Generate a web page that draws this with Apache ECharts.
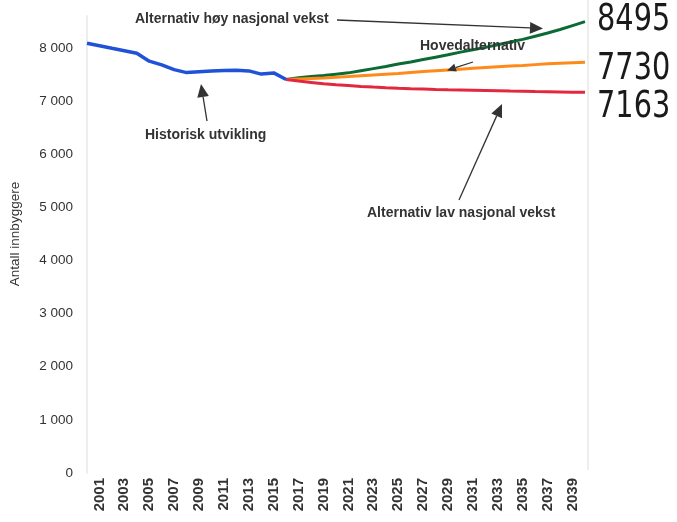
<!DOCTYPE html>
<html>
<head>
<meta charset="utf-8">
<script src="https://cdn.jsdelivr.net/npm/echarts@6/dist/echarts.min.js"></script>
<style>
html,body{margin:0;padding:0;background:#fff;}
#c{width:677px;height:522px;}
</style>
</head>
<body>
<div id="c"></div>
<script>
// Years 2000–2040
const years = [];
for (let y = 2000; y <= 2040; y++) years.push(String(y));

// Historisk utvikling 2000–2016
const historisk = [8088, 8040, 7992, 7947, 7900, 7750, 7680, 7591, 7535, 7552, 7567, 7574, 7578, 7567, 7507, 7529, 7405];
// Projections 2016–2040
const hoy = [7405, 7440, 7460, 7480, 7505, 7530, 7570, 7610, 7650, 7695, 7735, 7780, 7825, 7870, 7920, 7965, 8010, 8060, 8110, 8160, 8220, 8280, 8345, 8420, 8495];
const hoved = [7405, 7415, 7425, 7435, 7448, 7460, 7475, 7490, 7505, 7520, 7538, 7555, 7570, 7585, 7600, 7615, 7630, 7645, 7658, 7670, 7685, 7700, 7712, 7722, 7730];
const lav = [7405, 7375, 7350, 7325, 7305, 7290, 7275, 7262, 7250, 7240, 7232, 7225, 7218, 7212, 7207, 7202, 7197, 7192, 7187, 7183, 7178, 7174, 7170, 7166, 7163];
const handNotes = ['8495', '7730', '7163'];
const yTitle = 'Antall innbyggere';

const projStart = 16;
function pad(arr, start) {
  const out = new Array(years.length).fill(null);
  arr.forEach((v, i) => { out[start + i] = v; });
  return out;
}

function arrow(x1, y1, x2, y2, head) {
  const dx = x2 - x1, dy = y2 - y1, L = Math.sqrt(dx*dx + dy*dy);
  const ux = dx / L, uy = dy / L, px = -uy, py = ux;
  const hl = head, hw = head * 0.45;
  const bx = x2 - ux * hl, by = y2 - uy * hl;
  return [
    { type: 'line', shape: { x1: x1, y1: y1, x2: bx, y2: by }, style: { stroke: '#333', lineWidth: 1.3 }, z: 10 },
    { type: 'polygon', shape: { points: [[x2, y2], [bx + px*hw, by + py*hw], [bx - px*hw, by - py*hw]] }, style: { fill: '#333' }, z: 10 }
  ];
}

const FONT = '"Liberation Sans", Arial, sans-serif';
function label(text, x, y) {
  return { type: 'text', x: x, y: y, z: 10,
    style: { text: text, fill: '#333', font: 'bold 14px ' + FONT, textAlign: 'left', textVerticalAlign: 'middle' } };
}
function hand(text, x, y) {
  return { type: 'text', x: x, y: y, z: 10, scaleX: 0.8, scaleY: 1.05,
    style: { text: text, fill: '#1a1a1a', font: '36px "DejaVu Sans", sans-serif', textAlign: 'left', textVerticalAlign: 'middle' } };
}

const chart = echarts.init(document.getElementById('c'));
chart.setOption({
  animation: false,
  backgroundColor: '#fff',
  grid: { left: 87, right: 92, top: 16, bottom: 49, containLabel: false, outerBoundsMode: 'none' },
  xAxis: {
    type: 'category', data: years, boundaryGap: false,
    axisLine: { show: false }, axisTick: { show: false },
    axisLabel: {
      rotate: 90, margin: 5, color: '#333', fontWeight: 'bold', fontSize: 15,
      fontFamily: FONT,
      interval: function (i) { return i % 2 === 1; }
    },
    splitLine: { show: false }
  },
  yAxis: {
    type: 'value', min: 0, max: 8600, interval: 1000,
    axisLine: { show: true, lineStyle: { color: '#eeeeee', width: 2 } },
    axisTick: { show: false },
    splitLine: { show: false },
    axisLabel: {
      margin: 14, color: '#333', fontSize: 13.5, fontFamily: FONT,
      formatter: function (v) { if (v % 1000 !== 0) return ''; return v === 0 ? '0' : String(v / 1000) + ' 000'; }
    }
  },
  series: [
    { name: 'Alternativ høy nasjonal vekst', type: 'line', data: pad(hoy, projStart), symbol: 'none', lineStyle: { color: '#0c6b35', width: 3 }, z: 3 },
    { name: 'Hovedalternativ', type: 'line', data: pad(hoved, projStart), symbol: 'none', lineStyle: { color: '#ff8a1c', width: 3 }, z: 3 },
    { name: 'Alternativ lav nasjonal vekst', type: 'line', data: pad(lav, projStart), symbol: 'none', lineStyle: { color: '#e2283e', width: 3 }, z: 3 },
    { name: 'Historisk utvikling', type: 'line', data: pad(historisk, 0), symbol: 'none', lineStyle: { color: '#1f52d6', width: 3.5 }, z: 4 }
  ],
  graphic: [].concat(
    [{ type: 'text', x: 15, y: 234, rotation: Math.PI / 2, z: 10,
       style: { text: yTitle, fill: '#333', font: '13.5px ' + FONT, textAlign: 'center', textVerticalAlign: 'middle' } }],
    [label('Alternativ høy nasjonal vekst', 135, 19)],
    arrow(337, 20, 543, 28.5, 13),
    [label('Hovedalternativ', 420, 46)],
    arrow(473, 62, 447, 70.5, 9),
    [label('Historisk utvikling', 145, 135)],
    arrow(207, 121, 201, 84, 13),
    [label('Alternativ lav nasjonal vekst', 367, 213)],
    arrow(459, 200, 502, 104, 13),
    [{ type: 'line', shape: { x1: 588, y1: 0, x2: 588, y2: 470 }, style: { stroke: '#eeeeee', lineWidth: 2 } }],
    [hand(handNotes[0], 597, 20), hand(handNotes[1], 597, 69), hand(handNotes[2], 597, 107)]
  )
});
</script>
</body>
</html>
